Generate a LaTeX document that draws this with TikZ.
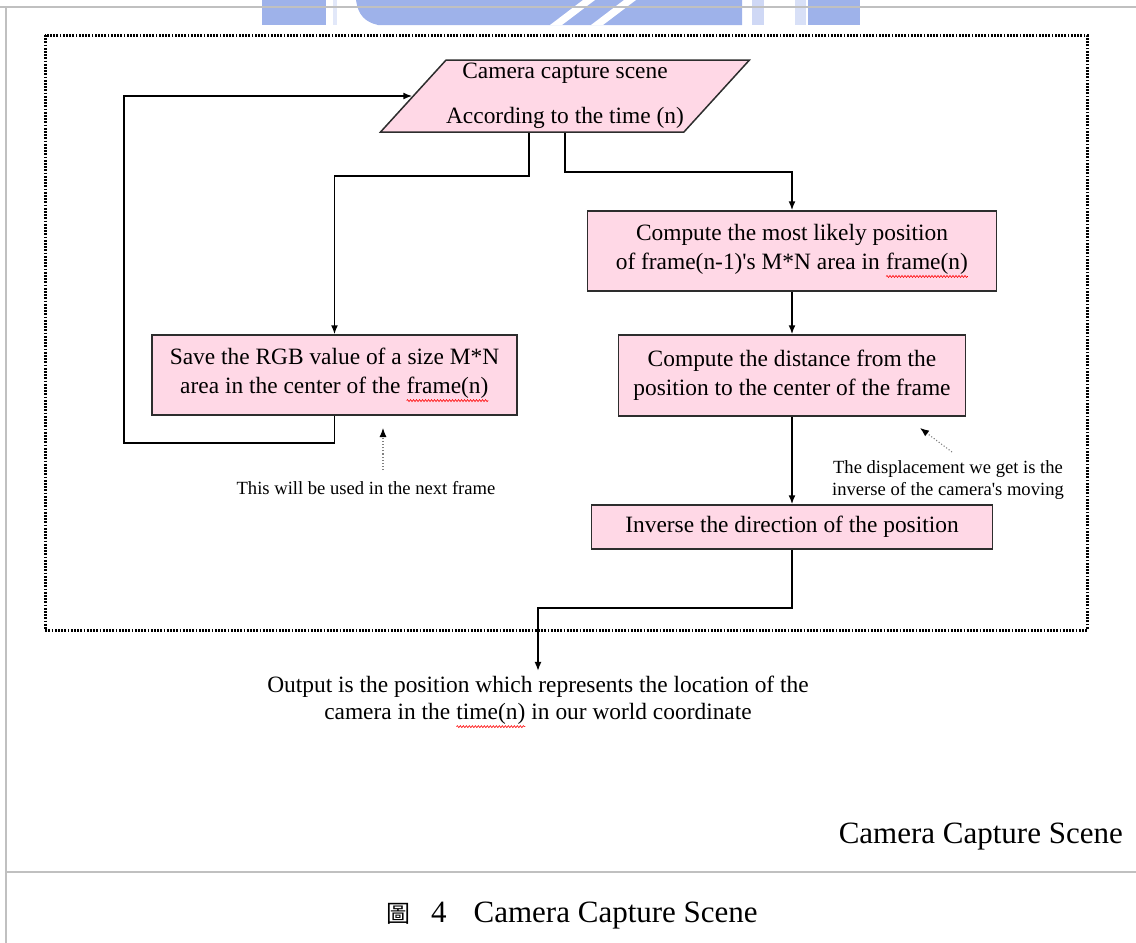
\documentclass[tikz,border=0pt]{standalone}
\usepackage{fontspec}
\setmainfont{Liberation Serif}
\newfontfamily\cjk{Noto Sans CJK TC}
\usetikzlibrary{arrows.meta,shapes.geometric,decorations.pathmorphing}
\definecolor{boxpink}{RGB}{255,216,230}
\definecolor{edgegray}{RGB}{45,45,45}
\definecolor{wm}{RGB}{158,178,234}
\definecolor{framegray}{RGB}{192,192,192}
\newcommand\redwave[1]{\tikz[baseline=(w.base),x=1pt,y=1pt]{\node[shape=rectangle,draw=none,fill=none,inner sep=0pt,outer sep=0pt,minimum width=0pt,minimum height=0pt,anchor=base] (w) at (0,0) {#1};\draw[red,line width=0.6pt,decorate,decoration={snake,amplitude=1pt,segment length=3pt}] ([yshift=-2pt]w.south west) -- ([yshift=-2pt]w.south east);}}
\begin{document}
\begin{tikzpicture}[x=1pt,y=-1pt,
  box/.style={draw=edgegray,line width=1.5pt,fill=boxpink,align=center,inner sep=0pt,font=\fontsize{23.4}{29}\selectfont},
  arr/.style={line width=1.6pt,-{Latex[length=9pt,width=7pt]}},
  note/.style={align=center,inner sep=0pt,font=\fontsize{18.6}{22}\selectfont},
  noteline/.style={draw=gray,dotted,line width=1.1pt,-{Latex[length=9pt,width=7pt,color=black]}},
]
\useasboundingbox (0,0) rectangle (1136,943);

% watermark remnants
\fill[wm] (262,0) rectangle (326,25);
\fill[wm!30] (333,0) rectangle (337,25);
\fill[wm] (356,0) .. controls (358,15) and (365,22) .. (378,25) -- (742,25) -- (742,0) -- cycle;
\fill[white] (550,25) -- (562,25) -- (595,0) -- (583,0) -- cycle;
\fill[white] (591,25) -- (603,25) -- (636,0) -- (624,0) -- cycle;
\fill[wm!50] (752,0) rectangle (764,25);
\fill[wm!40] (795,0) rectangle (806,25);
\fill[wm] (808,0) rectangle (860,25);

% page frame
\draw[framegray,line width=2pt] (0,7) -- (1136,7);
\draw[framegray,line width=2pt] (6,7) -- (6,943);
\draw[framegray,line width=2pt] (6,872) -- (1136,872);

% dotted frame
\draw[line width=3pt,dash pattern=on 1.8pt off 1.4pt] (45,35) rectangle (1087,630);

% nodes
\node[box,trapezium,trapezium left angle=45,trapezium right angle=135,trapezium stretches=true,minimum width=364pt,minimum height=72pt] (cam) at (565,96) {Camera capture scene\\[16pt]According to the time (n)};
\node[box,minimum width=409pt,minimum height=80pt] (comp1) at (792,251) {Compute the most likely position\\of frame(n-1)\textquotesingle s M*N area in \redwave{frame(n)}};
\node[box,minimum width=347pt,minimum height=81pt] (comp2) at (792,375.5) {Compute the distance from the\\position to the center of the frame};
\node[box,minimum width=401pt,minimum height=44pt] (inv) at (792,527) {Inverse the direction of the position};
\node[box,minimum width=365pt,minimum height=80pt] (save) at (334.5,375) {Save the RGB value of a size M*N\\area in the center of the \redwave{frame(n)}};

\node[align=center,inner xsep=0pt,inner ysep=5pt,font=\fontsize{23.4}{27}\selectfont] (out) at (538,702) {Output is the position which represents the location of the\\camera in the \redwave{time(n)} in our world coordinate};

\node[note] (note1) at (366,488) {This will be used in the next frame};
\node[note] (note2) at (948,480) {The displacement we get is the\\inverse of the camera\textquotesingle s moving};

\node[anchor=base east,inner sep=0pt,font=\fontsize{31}{36}\selectfont] (lbl) at (1123,843) {Camera Capture Scene};
\node[anchor=base west,inner sep=0pt,font=\fontsize{31}{36}\selectfont] (cap) at (386,922) {{\cjk\fontsize{24}{30}\selectfont 圖}\hspace{21pt}4\hspace{27pt}Camera Capture Scene};

% connectors
\coordinate (camL) at ([xshift=-36pt]cam.south);
\draw[arr] (camL) -- ++(0,43) -| (save.north);
\draw[arr] (cam.south) -- ++(0,39) -| (comp1.north);
\draw[arr] (comp1.south) -- (comp2.north);
\draw[arr] (comp2.south) -- (inv.north);
\coordinate (loopc) at (124,443);
\draw[arr] (save.south) |- (loopc) |- (cam.left side);
\draw[arr] (inv.south) -- ++(0,58) -| (out.north);

\coordinate (n1tail) at (383,470);
\coordinate (n1tip) at (383,428);
\draw[noteline] (n1tail) -- (n1tip);
\coordinate (n2tail) at (952,452);
\coordinate (n2tip) at (920,428);
\draw[noteline] (n2tail) -- (n2tip);
\end{tikzpicture}
\end{document}
